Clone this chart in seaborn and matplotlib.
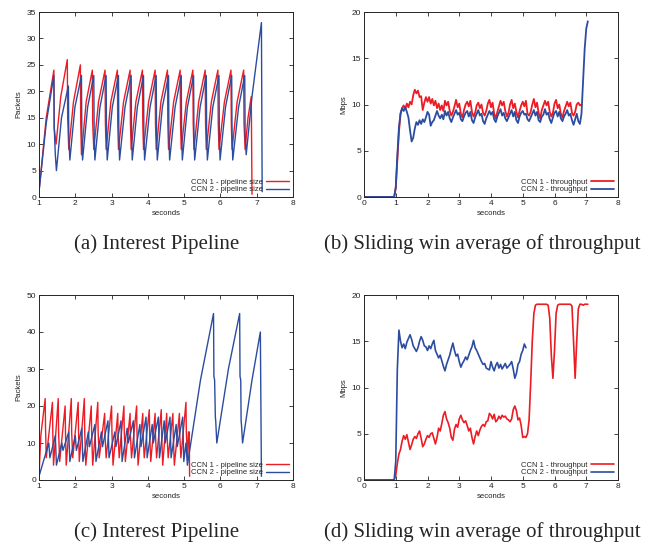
import numpy as np
import pandas as pd
import seaborn as sns
import matplotlib.pyplot as plt

sns.set_style("ticks")
plt.rcParams["font.family"] = ["Liberation Sans", "DejaVu Sans"]

RED = "#ec1c24"
BLUE = "#2b4c9f"

# (a) interest pipeline, run 1 - sawtooth vertices
a_red_t = [1.00, 1.20, 1.41, 1.42, 1.47, 1.60,
           1.78, 1.79, 1.82, 1.95,
           2.14, 2.15, 2.17, 2.30,
           2.47, 2.48, 2.51, 2.64,
           2.82, 2.83, 2.85, 2.98,
           3.16, 3.17, 3.19, 3.33,
           3.51, 3.52, 3.54, 3.67,
           3.85, 3.86, 3.88, 4.02,
           4.20, 4.21, 4.23, 4.36,
           4.54, 4.55, 4.57, 4.71,
           4.89, 4.90, 4.92, 5.06,
           5.24, 5.25, 5.27, 5.40,
           5.58, 5.59, 5.61, 5.75,
           5.93, 5.94, 5.96, 6.11,
           6.29, 6.30, 6.32, 6.46,
           6.64, 6.65, 6.68, 6.76,
           6.85, 6.87]
a_red_y = [1, 15, 24, 13, 10, 19,
           26, 15, 9, 18,
           25, 14, 8, 18,
           24, 14, 9, 18,
           24, 14, 9, 18,
           24, 14, 9, 18,
           24, 14, 9, 18,
           24, 14, 9, 18,
           24, 14, 9, 18,
           24, 14, 9, 18,
           24, 14, 9, 18,
           24, 14, 9, 18,
           24, 14, 9, 18,
           24, 14, 9, 18,
           24, 14, 9, 18,
           24, 14, 9, 15,
           19, 0.5]
a_blue_t = [1.00, 1.20, 1.41, 1.42, 1.45, 1.48, 1.62,
            1.81, 1.82, 1.85, 1.99,
            2.17, 2.18, 2.20, 2.34,
            2.51, 2.52, 2.54, 2.68,
            2.85, 2.86, 2.88, 3.02,
            3.19, 3.20, 3.22, 3.37,
            3.54, 3.55, 3.57, 3.71,
            3.88, 3.89, 3.91, 4.06,
            4.23, 4.24, 4.26, 4.40,
            4.57, 4.58, 4.60, 4.75,
            4.92, 4.93, 4.95, 5.09,
            5.26, 5.27, 5.29, 5.44,
            5.61, 5.62, 5.64, 5.79,
            5.96, 5.97, 5.99, 6.14,
            6.31, 6.32, 6.34, 6.50,
            6.67, 6.68, 6.71,
            6.87, 7.13, 7.15]
a_blue_y = [1, 14, 23, 13, 8, 5, 15,
            21, 12, 7, 17,
            23, 12, 7, 17,
            23, 12, 7, 17,
            23, 12, 7, 17,
            23, 12, 7, 17,
            23, 12, 7, 17,
            23, 12, 7, 17,
            23, 12, 7, 17,
            23, 12, 7, 17,
            23, 12, 7, 17,
            23, 12, 7, 17,
            23, 12, 7, 17,
            23, 12, 7, 17,
            23, 12, 7, 17,
            23, 12, 8,
            19, 33, 1]

# (b) sliding window throughput, run 1 (samples every 0.05 s from 1.00 s)
b_red = [1.0, 4.0, 7.0, 9.0, 9.6, 9.9, 9.5, 10.1, 9.7, 10.3,
         10.0, 11.0, 11.6, 11.2, 11.5, 10.8, 10.9, 9.4, 10.2, 10.8,
         10.3, 10.8, 10.1, 10.6, 9.9, 10.4, 9.6, 10.1, 9.4, 9.9, 9.3,
         10.4, 9.9, 10.3, 9.3, 8.8, 9.2, 9.8,
         10.5, 9.7, 10.1, 9.0, 8.6, 9.4, 10.0,
         10.3, 9.8, 10.4, 9.2, 8.7, 9.1, 9.9,
         10.2, 9.6, 10.0, 9.1, 8.8, 9.3, 10.1,
         10.5, 9.7, 10.2, 9.0, 8.5, 9.2, 9.8,
         10.4, 9.9, 10.3, 9.3, 8.7, 9.1, 10.0,
         10.5, 9.6, 10.1, 9.2, 8.6, 9.3, 9.9,
         10.3, 9.8, 10.4, 9.0, 8.8, 9.2, 10.0,
         10.6, 9.7, 10.2, 9.1, 8.5, 9.4, 9.9,
         10.4, 9.9, 10.3, 9.2, 8.7, 9.1, 10.1,
         10.5, 9.6, 10.0, 9.0, 8.6, 9.3, 9.8,
         10.3, 9.8, 10.2, 9.1, 8.8, 9.2, 10.0,
         10.2, 9.9, 10.0]
b_blue = [1.0, 4.5, 7.5, 9.0, 9.6, 9.3, 9.7, 9.2, 8.6, 7.2,
          6.0, 6.4, 7.4, 8.1, 7.8, 8.3, 7.9, 8.4, 8.1, 8.6,
          9.2, 8.9, 7.7, 8.1, 8.3, 8.8, 9.3, 8.8, 8.5, 8.9, 8.4,
          9.3, 8.8, 9.2, 8.5, 8.1, 8.6, 9.0,
          9.4, 8.9, 9.1, 8.4, 8.2, 8.7, 9.1,
          9.3, 8.7, 9.2, 8.3, 8.0, 8.6, 9.0,
          9.4, 8.8, 9.0, 8.2, 7.9, 8.5, 8.9,
          9.3, 8.9, 9.2, 8.4, 8.1, 8.7, 9.1,
          9.5, 8.8, 9.1, 8.5, 8.2, 8.6, 9.0,
          9.4, 8.7, 9.2, 8.3, 8.0, 8.7, 9.1,
          9.3, 8.9, 9.0, 8.4, 8.2, 8.6, 9.0,
          9.4, 8.8, 9.2, 8.3, 8.1, 8.7, 8.9,
          9.5, 8.9, 9.1, 8.4, 8.0, 8.6, 9.1,
          9.3, 8.7, 9.2, 8.5, 8.2, 8.7, 9.0,
          9.4, 8.8, 9.0, 8.3, 7.8, 8.4, 9.0,
          8.2, 7.9,
          9.0, 12.5, 16.0, 18.2, 19.0]

# (c) interest pipeline, run 2
c_red_t = [1.00, 1.05, 1.17, 1.18, 1.20, 1.37, 1.38, 1.40, 1.53, 1.54, 1.57,
           1.72, 1.73, 1.75, 1.89, 1.90, 1.93, 2.08, 2.09, 2.11, 2.25, 2.26,
           2.29, 2.44, 2.45, 2.48, 2.62, 2.63, 2.66, 2.81, 2.82, 2.85, 3.00,
           3.01, 3.04, 3.17, 3.18, 3.21, 3.34, 3.35, 3.38, 3.51, 3.52, 3.55,
           3.69, 3.70, 3.73, 3.86, 3.87, 3.90, 4.04, 4.05, 4.08, 4.20, 4.21,
           4.24, 4.37, 4.38, 4.41, 4.52, 4.53, 4.56, 4.69, 4.70, 4.73, 4.87,
           4.88, 4.91, 5.05, 5.06, 5.09, 5.12, 5.14, 5.15]
c_red_y = [1, 12, 22, 14, 6, 21, 13, 4, 22, 13, 5,
           20, 13, 4, 22, 13, 6, 21, 13, 5, 22, 13,
           4, 20, 13, 4, 21, 13, 6, 18, 12, 6, 20,
           13, 4, 18, 12, 6, 20, 13, 5, 18, 12, 6,
           20, 13, 4, 18, 12, 6, 19, 12, 5, 18, 12,
           6, 19, 12, 4, 18, 12, 6, 18, 12, 4, 18,
           12, 6, 21, 13, 6, 13, 13, 1]
c_blue_t = [1.00, 1.27, 1.30, 1.45, 1.48, 1.63, 1.66, 1.82, 1.85, 2.00,
            2.03, 2.18, 2.21, 2.36, 2.39, 2.54, 2.57, 2.72, 2.75, 2.90,
            2.93, 3.09, 3.12, 3.26, 3.29, 3.43, 3.46, 3.60, 3.63, 3.78,
            3.81, 3.95, 3.98, 4.12, 4.15, 4.29, 4.32, 4.45, 4.48, 4.61,
            4.64, 4.78, 4.81, 4.96, 4.99, 5.05, 5.09, 5.45, 5.81, 5.82,
            5.84, 5.86, 5.87, 5.90, 6.22, 6.53, 6.54, 6.56, 6.57, 6.58,
            6.61, 6.87, 7.10, 7.13]
c_blue_y = [1, 10, 6, 12, 4, 10, 8, 13, 5, 12,
            8, 14, 5, 13, 9, 15, 5, 13, 9, 16,
            6, 13, 9, 16, 5, 14, 10, 16, 6, 15,
            9, 17, 6, 15, 10, 17, 6, 16, 10, 17,
            6, 15, 9, 17, 5, 10, 4, 27, 45, 28,
            27, 17, 16, 10, 30, 45, 28, 27, 16, 15,
            10, 27, 40, 1]

# (d) sliding window throughput, run 2 (samples every 0.05 s from 1.00 s)
d_red = [0.5, 1.8, 2.8, 3.3, 4.2, 4.8, 4.4, 4.9, 4.1, 3.3,
         3.8, 4.4, 4.7, 4.5, 5.0, 5.3, 4.5, 3.6, 3.9, 4.4,
         4.8, 4.6, 5.0, 5.1, 4.5, 3.9, 4.6, 5.6, 5.3, 6.1,
         7.0, 7.4, 6.6, 6.2, 5.6, 4.6, 4.3, 5.5, 6.0, 5.7,
         6.6, 7.0, 6.5, 6.2, 6.4, 5.9, 5.3, 5.6, 4.6, 3.9,
         4.7, 5.3, 4.8, 5.4, 5.8, 6.0, 5.8, 6.3, 6.4, 7.2,
         7.0, 6.6, 7.1, 6.3, 6.5, 6.9, 6.6, 7.0, 6.8, 6.9,
         6.6, 6.5, 6.3, 6.6, 7.6, 8.0, 7.5, 6.5, 6.7, 5.9,
         4.6, 4.7, 4.6, 5.0, 6.5, 10.5, 15.0, 18.0, 18.9, 19.0,
         19.0, 19.0, 19.0, 19.0, 19.0, 19.0, 18.9, 17.5, 13.5, 11.0,
         14.0, 18.0, 18.9, 19.0, 19.0, 19.0, 19.0, 19.0, 19.0, 19.0,
         19.0, 18.8, 15.0, 11.0, 15.0, 18.5, 19.0, 19.0, 18.9, 19.0,
         19.0, 19.0]
d_blue = [2.0, 12.0, 16.2, 15.0, 14.3, 14.7, 14.2, 14.9, 15.3, 15.7,
          15.2, 14.5, 14.2, 13.9, 14.3, 15.0, 15.5, 15.1, 14.5, 14.4,
          14.0, 14.5, 14.2, 14.7, 15.1, 14.0, 13.6, 13.2, 13.5, 12.9,
          12.3, 11.8, 12.5, 13.0, 13.5, 14.2, 14.8, 14.0, 13.4, 13.6,
          12.8, 12.2, 12.6, 12.9, 13.3, 13.0, 13.5, 14.0, 14.4, 15.1,
          14.3, 14.0, 13.6, 13.2, 12.8, 12.5, 12.6, 12.1, 12.0, 11.9,
          12.8, 12.2, 11.8, 12.4, 12.7, 12.1, 12.5, 12.0, 12.3, 12.6,
          12.1, 12.3, 12.5, 12.8, 12.0, 11.0, 11.5, 12.5, 12.8, 13.6,
          14.0, 14.7, 14.3]

pipe_labels = ["CCN 1 - pipeline size", "CCN 2 - pipeline size"]
thr_labels = ["CCN 1 - throughput", "CCN 2 - throughput"]


def sampled(vals, start=1.00, step=0.05):
    # throughput traces start at 0 Mbps from t = 0
    t = np.concatenate([[0.0, 0.95], start + step * np.arange(len(vals))])
    return t, np.concatenate([[0.0, 0.0], vals])


fig = plt.figure(figsize=(6.57, 5.42), dpi=100)
W, H = 657, 542


def panel(px, py, red, blue, labels, ylabel, xlim, ylim, yticks, lw):
    ax = fig.add_axes([px / W, 1 - (py + 185) / H, 254 / W, 185 / H])
    df = pd.concat([
        pd.DataFrame({"seconds": red[0], "v": red[1], "s": labels[0]}),
        pd.DataFrame({"seconds": blue[0], "v": blue[1], "s": labels[1]}),
    ])
    sns.lineplot(data=df, x="seconds", y="v", hue="s", palette=[RED, BLUE],
                 estimator=None, sort=False, lw=lw, ax=ax)
    ax.set_xlim(*xlim)
    ax.set_ylim(*ylim)
    ax.set_xticks(range(xlim[0], xlim[1] + 1))
    ax.set_yticks(yticks)
    ax.tick_params(direction="in", length=3, width=0.6, top=True, right=True,
                   labelsize=6, pad=2, colors="#222222")
    for s in ax.spines.values():
        s.set_linewidth(0.7)
        s.set_visible(True)
    ax.set_xlabel("seconds", fontsize=5.6, labelpad=2, color="#222222")
    ax.set_ylabel(ylabel, fontsize=5.6, labelpad=3, color="#222222")
    h, l = ax.get_legend_handles_labels()
    ax.legend(h, l, loc="lower right", frameon=False, markerfirst=False,
              fontsize=5.5, handlelength=3.0, handletextpad=0.5,
              labelspacing=0.0, borderaxespad=0.3, borderpad=0.2)
    return ax


panel(39, 12, (a_red_t, a_red_y), (a_blue_t, a_blue_y), pipe_labels,
      "Packets", (1, 8), (0, 35), range(0, 36, 5), 1.0)
panel(364, 12, sampled(b_red), sampled(b_blue), thr_labels,
      "Mbps", (0, 8), (0, 20), range(0, 21, 5), 1.3)
panel(39, 295, (c_red_t, c_red_y), (c_blue_t, c_blue_y), pipe_labels,
      "Packets", (1, 8), (0, 50), range(0, 51, 10), 1.0)
panel(364, 295, sampled(d_red), sampled(d_blue), thr_labels,
      "Mbps", (0, 8), (0, 20), range(0, 21, 5), 1.2)

captions = ["(a) Interest Pipeline", "(b) Sliding win average of throughput",
            "(c) Interest Pipeline", "(d) Sliding win average of throughput"]
for cap, cx, cy in zip(captions, [157, 482, 157, 482], [244, 244, 532, 532]):
    fig.text(cx / W, 1 - cy / H, cap, family="Liberation Serif", fontsize=15,
             ha="center", va="center")

fig.savefig("out.png", dpi=100)
